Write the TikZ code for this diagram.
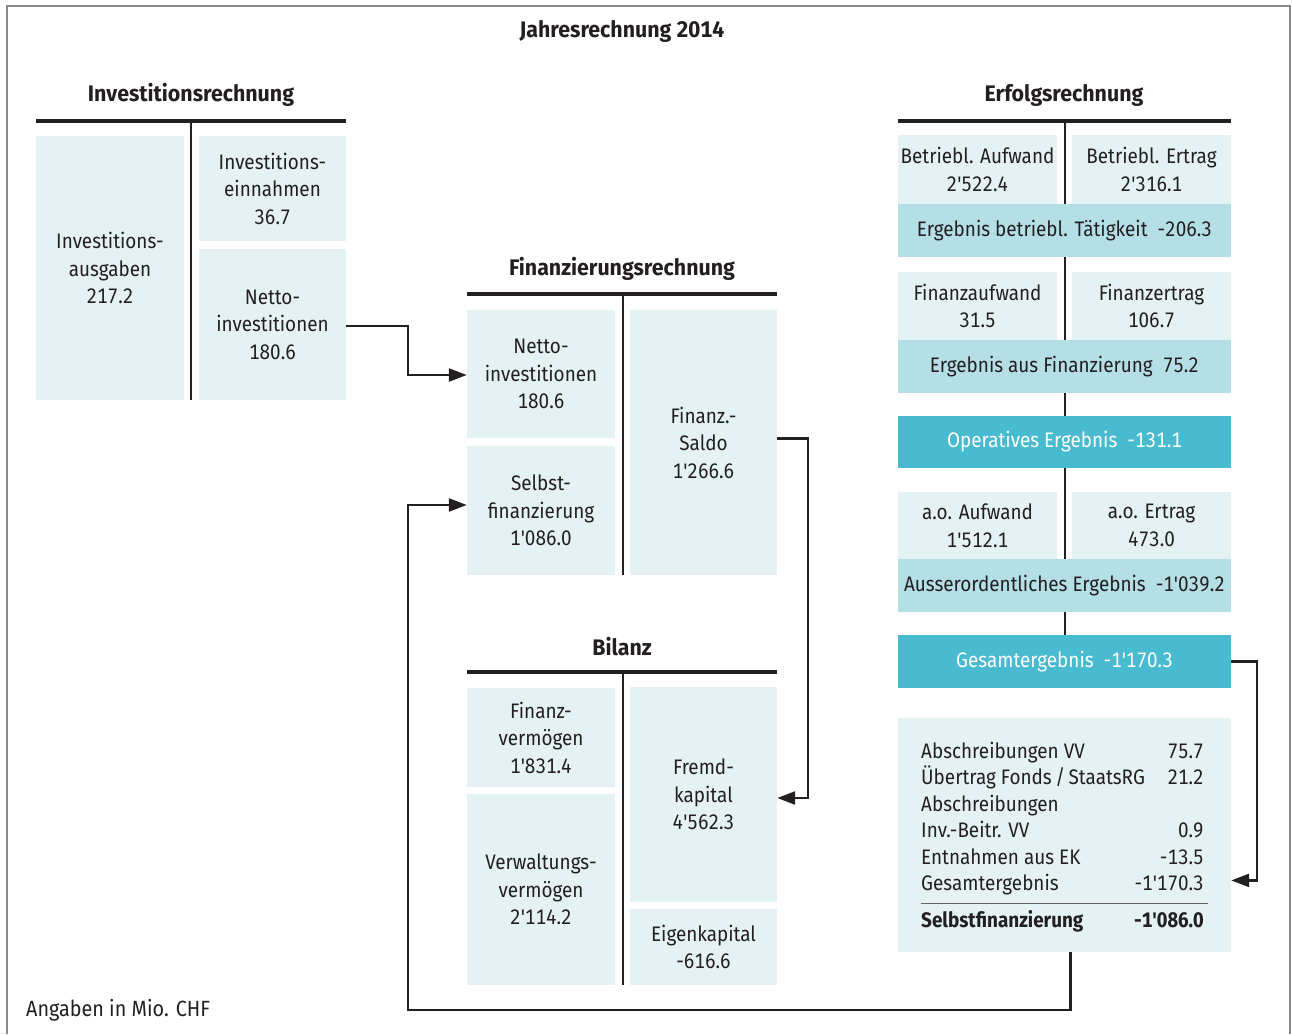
\documentclass[tikz,border=0pt]{standalone}
\usepackage{fontspec}
\setmainfont{Fira Sans}[Ligatures=TeXOff, FakeStretch=0.9, Numbers={Monospaced,Lining}]
\newfontfamily\ttlfont{Fira Sans}[Ligatures=TeXOff, FakeStretch=0.95, Numbers={Monospaced,Lining}]
\usetikzlibrary{arrows.meta}
\definecolor{lightb}{HTML}{E4F2F4}
\definecolor{midb}{HTML}{B5DFE7}
\definecolor{darkb}{HTML}{48BBD0}
\definecolor{ink}{HTML}{231F20}
\definecolor{framegray}{HTML}{8A8A8A}
\begin{document}
\begin{tikzpicture}[x=1pt,y=-1pt,
  box/.style={inner sep=0pt, align=center, text=ink, font=\fontsize{21}{27.5}\selectfont},
  lbox/.style={box, fill=lightb},
  mbox/.style={box, fill=midb},
  dbox/.style={box, fill=darkb, text=white},
  ttl/.style={inner sep=0pt, text=ink, font=\ttlfont\fontsize{22.5}{25}\selectfont\bfseries},
  bar/.style={line width=3.4pt, draw=ink},
  thinbar/.style={line width=2.6pt, draw=ink},
  conn/.style={line width=2.4pt, draw=ink, -{Triangle[length=18pt,width=13pt]}},
  sftxt/.style={inner sep=0pt, text=ink, font=\fontsize{21}{26}\selectfont},
]
\useasboundingbox (0,0) rectangle (1292,1034);
% frame
\draw[framegray, line width=1.5pt] (7,1034) -- (7,6) -- (1290,6) -- (1290,1034);

\node[ttl] (title) at (622,31) {Jahresrechnung 2014};

% Investitionsrechnung
\node[ttl] (tInv) at (191,95) {Investitionsrechnung};
\draw[bar] (36,121) -- (346,121);
\draw[thinbar] (191,121) -- (191,400);
\node[lbox, minimum width=148pt, minimum height=264pt] (invA) at (110,268) {Investitions-\\ausgaben\\217.2};
\node[lbox, minimum width=147pt, minimum height=105pt] (invE) at (272.5,188.5) {Investitions-\\einnahmen\\36.7};
\node[lbox, minimum width=147pt, minimum height=151pt] (invN) at (272.5,324.5) {Netto-\\investitionen\\180.6};

% Finanzierungsrechnung
\node[ttl] (tFin) at (622,269) {Finanzierungsrechnung};
\draw[bar] (467,294) -- (777,294);
\draw[thinbar] (623,294) -- (623,575);
\node[lbox, minimum width=148pt, minimum height=128pt] (finN) at (541,374) {Netto-\\investitionen\\180.6};
\node[lbox, minimum width=148pt, minimum height=129pt] (finS) at (541,510.5) {Selbst-\\finanzierung\\1'086.0};
\node[lbox, minimum width=147pt, minimum height=265pt] (finSaldo) at (703.5,442.5) {Finanz.-\\Saldo\\1'266.6};

% Bilanz
\node[ttl] (tBil) at (622,647) {Bilanz};
\draw[bar] (467,672) -- (777,672);
\draw[thinbar] (623,672) -- (623,985);
\node[lbox, minimum width=148pt, minimum height=99pt] (bilFV) at (541,737.5) {Finanz-\\vermögen\\1'831.4};
\node[lbox, minimum width=148pt, minimum height=191pt] (bilVV) at (541,889.5) {Verwaltungs-\\vermögen\\2'114.2};
\node[lbox, minimum width=147pt, minimum height=215pt] (bilFK) at (703.5,794.5) {Fremd-\\kapital\\4'562.3};
\node[lbox, minimum width=147pt, minimum height=76pt] (bilEK) at (703.5,947) {Eigenkapital\\-616.6};

% Erfolgsrechnung
\node[ttl] (tErf) at (1064,95) {Erfolgsrechnung};
\draw[bar] (898,121) -- (1231,121);
\draw[thinbar] (1065,121) -- (1065,635);
\node[lbox, minimum width=159pt, minimum height=69pt] (bA) at (977.5,169.5) {Betriebl. Aufwand\\2'522.4};
\node[lbox, minimum width=159pt, minimum height=69pt] (bE) at (1151.5,169.5) {Betriebl. Ertrag\\2'316.1};
\node[mbox, minimum width=333pt, minimum height=53pt] (ebT) at (1064.5,230.5) {Ergebnis betriebl. Tätigkeit\ \ -206.3};
\node[lbox, minimum width=159pt, minimum height=68pt] (fA) at (977.5,306) {Finanzaufwand\\31.5};
\node[lbox, minimum width=159pt, minimum height=68pt] (fE) at (1151.5,306) {Finanzertrag\\106.7};
\node[mbox, minimum width=333pt, minimum height=53pt] (eF) at (1064.5,366.5) {Ergebnis aus Finanzierung\ \ 75.2};
\node[dbox, minimum width=333pt, minimum height=52pt] (op) at (1064.5,442) {Operatives Ergebnis\ \ -131.1};
\node[lbox, minimum width=159pt, minimum height=67pt] (aoA) at (977.5,525.5) {a.o. Aufwand\\1'512.1};
\node[lbox, minimum width=159pt, minimum height=67pt] (aoE) at (1151.5,525.5) {a.o. Ertrag\\473.0};
\node[mbox, minimum width=333pt, minimum height=53pt] (aoErg) at (1064.5,585.5) {Ausserordentliches Ergebnis\ \ -1'039.2};
\node[dbox, minimum width=333pt, minimum height=53pt] (ges) at (1064.5,661.5) {Gesamtergebnis\ \ -1'170.3};

% Selbstfinanzierung box
\node[fill=lightb, inner sep=0pt, minimum width=333pt, minimum height=234pt] (sf) at (1064.5,835) {};
\node[sftxt, anchor=mid west] (s1l) at (921,756) {Abschreibungen VV};
\node[sftxt, anchor=mid east] (s1r) at (1204,756) {75.7};
\node[sftxt, anchor=mid west] (s2l) at (921,782) {Übertrag Fonds\,/\,StaatsRG};
\node[sftxt, anchor=mid east] (s2r) at (1204,782) {21.2};
\node[sftxt, anchor=mid west] (s3l) at (921,809) {Abschreibungen};
\node[sftxt, anchor=mid west] (s4l) at (921,835) {Inv.-Beitr. VV};
\node[sftxt, anchor=mid east] (s4r) at (1204,835) {0.9};
\node[sftxt, anchor=mid west] (s5l) at (921,862) {Entnahmen aus EK};
\node[sftxt, anchor=mid east] (s5r) at (1204,862) {-13.5};
\node[sftxt, anchor=mid west] (s6l) at (921,888) {Gesamtergebnis};
\node[sftxt, anchor=mid east] (s6r) at (1204,888) {-1'170.3};
\draw[draw=ink!70, line width=1pt] (921,903) -- (1208,903);
\node[sftxt, font=\fontsize{21}{26}\selectfont\bfseries, anchor=mid west] (s7l) at (921,925) {Selbstfinanzierung};
\node[sftxt, font=\fontsize{21}{26}\selectfont\bfseries, anchor=mid east] (s7r) at (1204,925) {-1'086.0};

\node[sftxt, font=\fontsize{22}{26}\selectfont, anchor=mid west] (note) at (26,1014) {Angaben in Mio. CHF};

% connectors
\draw[conn] ([yshift=-1.5pt]invN.east) -- ++(62,0) |- ([yshift=-1pt]finN.west);
\draw[conn] ([yshift=4pt]finSaldo.east) -- ++(31,0) |- ([yshift=-3.5pt]bilFK.east);
\draw[conn] (ges.east) -- ++(26,0) |- ([yshift=3pt]sf.east |- s6r);
\coordinate (k2) at (408,1010);
\draw[conn] ([xshift=6pt]sf.south) |- (k2) |- ([yshift=5.5pt]finS.west);
\end{tikzpicture}
\end{document}
